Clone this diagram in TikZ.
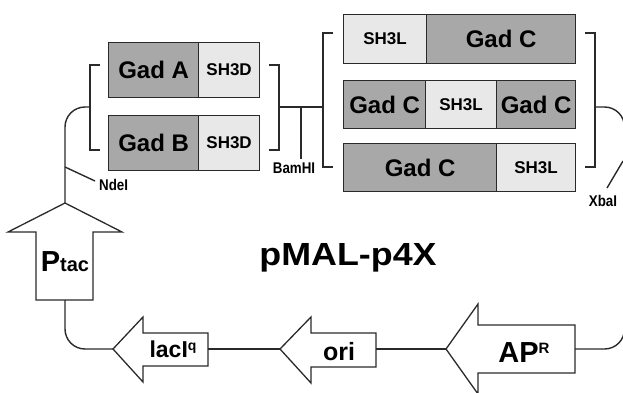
\documentclass[tikz,border=0pt]{standalone}
\usepackage{fontspec}
\setmainfont{Liberation Sans}
\definecolor{edge}{HTML}{2A2A2A}
\definecolor{gaddark}{HTML}{A8A8A8}
\definecolor{shlight}{HTML}{E8E8E8}
\begin{document}
\begin{tikzpicture}[
  x=1pt, y=-1pt,
  box/.style={draw=edge, line width=1.2pt, anchor=north west, inner sep=0pt},
  gad/.style={box, fill=gaddark, font=\bfseries\fontsize{24}{24}\selectfont},
  shd/.style={box, fill=shlight, font=\bfseries\fontsize{17}{17}\selectfont},
  bracketline/.style={draw=edge, line width=2.6pt, line join=miter},
  wire/.style={draw=edge, line width=1.4pt},
  gene/.style={draw=edge, line width=1.3pt, fill=white, line join=miter},
  site/.style={font=\bfseries\fontsize{15.5}{15.5}\selectfont, inner sep=0pt},
  genetext/.style={anchor=base, inner sep=0pt, font=\bfseries}
]
\useasboundingbox (0,0) rectangle (623,393);

% ---- insert domains: Gad A / Gad B with SH3D ----
\node[gad, minimum width=90pt, minimum height=55pt] (gadA) at (108,42) {Gad A};
\node[shd, minimum width=61pt, minimum height=55pt] (shA) at (198,42) {SH3D};
\node[gad, minimum width=90pt, minimum height=55pt] (gadB) at (108,115) {Gad B};
\node[shd, minimum width=61pt, minimum height=55pt] (shB) at (198,115) {SH3D};

% ---- insert domains: Gad C with SH3L ----
\node[shd, minimum width=83pt, minimum height=49pt] (shC1) at (343,14) {SH3L};
\node[gad, minimum width=149pt, minimum height=49pt] (gadC1) at (426,14) {Gad C};
\node[gad, minimum width=82pt, minimum height=48pt] (gadC2a) at (343,80) {Gad C};
\node[shd, minimum width=71pt, minimum height=48pt] (shC2) at (425,80) {SH3L};
\node[gad, minimum width=79pt, minimum height=48pt] (gadC2b) at (496,80) {Gad C};
\node[gad, minimum width=153pt, minimum height=48pt] (gadC3) at (343,143) {Gad C};
\node[shd, minimum width=79pt, minimum height=48pt] (shC3) at (496,143) {SH3L};

% ---- brackets ----
\draw[bracketline] (100,65) -- (90,65) -- (90,150) -- (100,150);
\draw[bracketline] (269,65) -- (279,65) -- (279,150) -- (269,150);
\draw[bracketline] (333,33) -- (323,33) -- (323,167) -- (333,167);
\draw[bracketline] (585,33) -- (595,33) -- (595,167) -- (585,167);
\coordinate (abL) at (89,107);
\coordinate (abR) at (280,107);
\coordinate (cL) at (322,107);
\coordinate (cR) at (596,107);

% ---- gene arrows ----
\coordinate (ptacTip) at (65,203);
\coordinate (ptacBase) at (65,300);
\draw[gene] (ptacTip) -- (122,232) -- (93,232) -- (93,300) -- (36,300) -- (36,232) -- (8,232) -- cycle;
\node[genetext] (ptac) at (65,271) {\fontsize{29}{29}\selectfont P\fontsize{20}{20}\selectfont tac};

\coordinate (lacTip) at (113,349);
\coordinate (lacTail) at (208,349);
\draw[gene] (lacTip) -- (143,317) -- (143,333) -- (208,333) -- (208,366) -- (143,366) -- (143,382) -- cycle;
\node[genetext] (laci) at (173,357) {\fontsize{23}{23}\selectfont lacI\raisebox{7pt}{\fontsize{14}{14}\selectfont q}};

\coordinate (oriTip) at (280,349);
\coordinate (oriTail) at (376,349);
\draw[gene] (oriTip) -- (311,317) -- (311,333) -- (376,333) -- (376,367) -- (311,367) -- (311,383) -- cycle;
\node[genetext] (ori) at (339,360) {\fontsize{25}{25}\selectfont ori};

\coordinate (apTip) at (446,349);
\coordinate (apTail) at (575,349);
\draw[gene] (apTip) -- (478,304) -- (478,325) -- (575,325) -- (575,373) -- (478,373) -- (478,394) -- cycle;
\node[genetext] (apr) at (524,362) {\fontsize{29}{29}\selectfont AP\raisebox{9pt}{\fontsize{15}{15}\selectfont R}};

% ---- plasmid backbone ----
\coordinate (loopR) at (624.5,230);
\draw[wire] (abR) -- (cL);
\draw[wire, rounded corners=20pt] (abL) -| (ptacTip);
\draw[wire, rounded corners=20pt] (ptacBase) |- (lacTip);
\draw[wire] (lacTail) -- (oriTip);
\draw[wire] (oriTail) -- (apTip);
\draw[wire, rounded corners=20pt] (apTail) -| (loopR) |- (cR);

% ---- restriction sites ----
\coordinate (bamTop) at (301,107);
\coordinate (bamEnd) at (301,159);
\draw[wire] (bamTop) -- (bamEnd);
\node[site] (bam) at (294,168) {\scalebox{0.86}[1]{BamHI}};

\coordinate (ndeOn) at (65,167);
\coordinate (ndeEnd) at (95,181);
\draw[wire] (ndeOn) -- (ndeEnd);
\node[site, anchor=west] (nde) at (99,185) {\scalebox{0.86}[1]{NdeI}};

\coordinate (xbaOn) at (623,161);
\coordinate (xbaEnd) at (607,188);
\draw[wire] (xbaOn) -- (xbaEnd);
\node[site] (xba) at (603,201) {\scalebox{0.86}[1]{XbaI}};

% ---- plasmid name ----
\node[anchor=base, inner sep=0pt, font=\bfseries\fontsize{32}{32}\selectfont] (name) at (348,265) {\scalebox{1.12}[1]{pMAL-p4X}};
\end{tikzpicture}
\end{document}
